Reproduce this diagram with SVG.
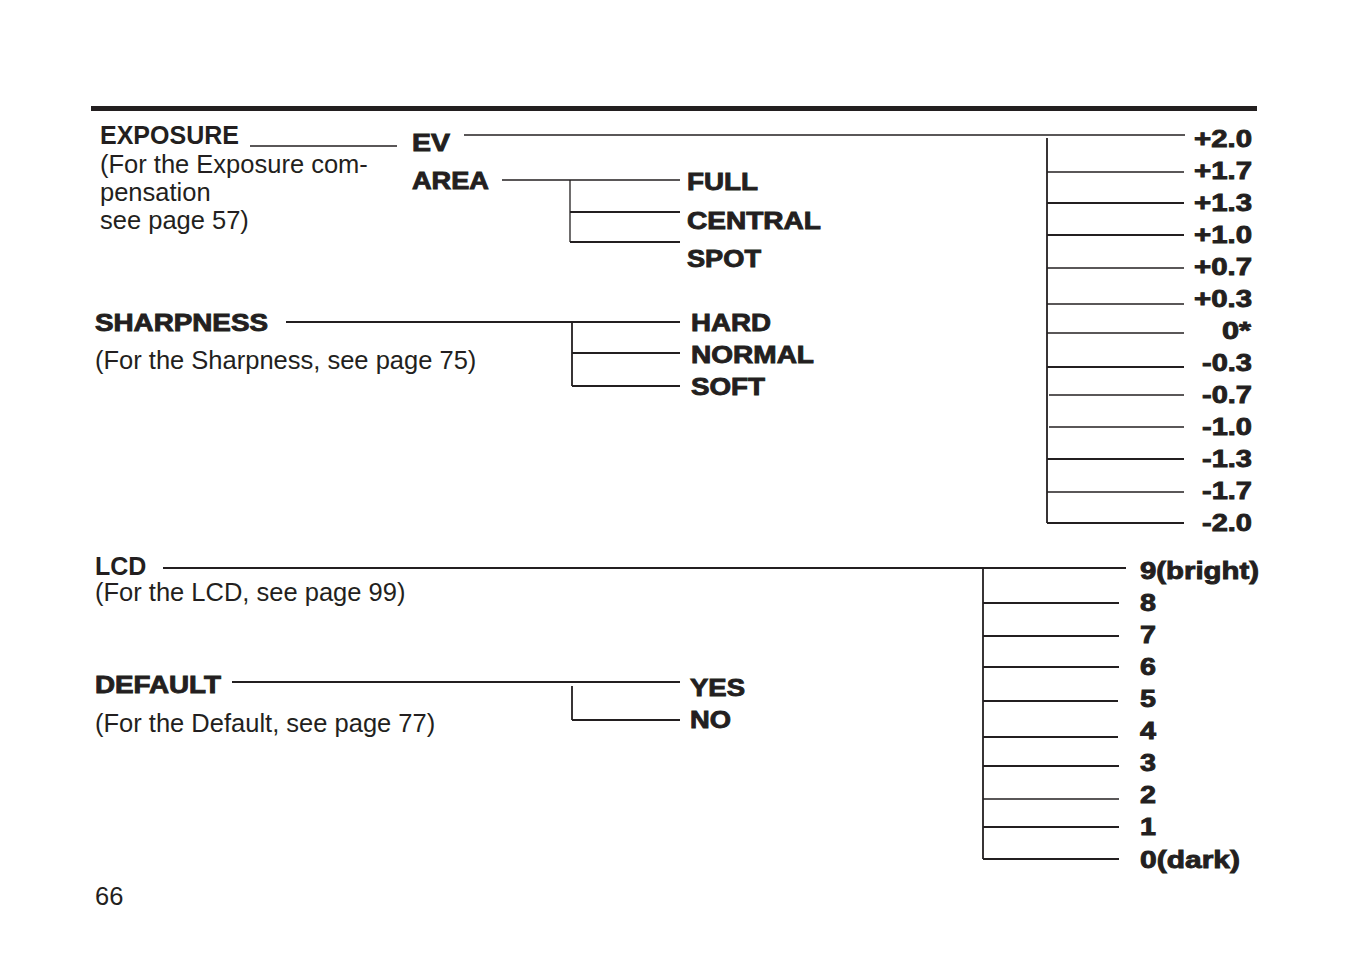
<svg xmlns="http://www.w3.org/2000/svg" width="1346" height="954" viewBox="0 0 1346 954">
<style>
.reg{font-family:"Liberation Sans",Arial,sans-serif;font-size:25.5px;fill:#231f20}
.bold{font-family:"Liberation Sans",Arial,sans-serif;font-size:25px;font-weight:bold;fill:#231f20}
.hv{font-family:"Liberation Sans",Arial,sans-serif;font-size:24.5px;font-weight:bold;fill:#231f20;stroke:#231f20;stroke-width:0.9px}
.ln{stroke:#231f20;stroke-width:1.8;fill:none}
.thin{stroke:#231f20;stroke-width:1.3;fill:none}
</style>
<rect width="1346" height="954" fill="#ffffff"/>
<rect x="91" y="106" width="1166" height="5" fill="#231f20"/>

<g id="connectors">
<line class="thin" x1="250" y1="146" x2="397" y2="146"/>
<line class="thin" x1="464" y1="135" x2="1185" y2="135"/>
<line class="ln" x1="1047" y1="138" x2="1047" y2="523"/>
<line class="thin" x1="1047" y1="172" x2="1184" y2="172"/>
<line class="ln" x1="1047" y1="203" x2="1184" y2="203"/>
<line class="ln" x1="1047" y1="235" x2="1184" y2="235"/>
<line class="thin" x1="1047" y1="268" x2="1184" y2="268"/>
<line class="thin" x1="1047" y1="304" x2="1184" y2="304"/>
<line class="thin" x1="1047" y1="333" x2="1184" y2="333"/>
<line class="ln" x1="1047" y1="367" x2="1184" y2="367"/>
<line class="thin" x1="1049" y1="395" x2="1184" y2="395"/>
<line class="thin" x1="1049" y1="427" x2="1184" y2="427"/>
<line class="ln" x1="1047" y1="459" x2="1184" y2="459"/>
<line class="thin" x1="1047" y1="492" x2="1184" y2="492"/>
<line class="ln" x1="1047" y1="523" x2="1184" y2="523"/>

<line class="thin" x1="502" y1="180" x2="680" y2="180"/>
<line class="thin" x1="570" y1="180" x2="570" y2="242"/>
<line class="ln" x1="570" y1="212" x2="680" y2="212"/>
<line class="ln" x1="570" y1="242" x2="680" y2="242"/>

<line class="ln" x1="286" y1="322" x2="680" y2="322"/>
<line class="ln" x1="572" y1="322" x2="572" y2="386"/>
<line class="ln" x1="572" y1="353" x2="680" y2="353"/>
<line class="ln" x1="572" y1="386" x2="680" y2="386"/>

<line class="ln" x1="163" y1="568" x2="1126" y2="568"/>
<line class="ln" x1="983" y1="568" x2="983" y2="859"/>
<line class="ln" x1="983" y1="603" x2="1119" y2="603"/>
<line class="ln" x1="983" y1="636" x2="1119" y2="636"/>
<line class="ln" x1="983" y1="667" x2="1119" y2="667"/>
<line class="ln" x1="983" y1="701" x2="1118" y2="701"/>
<line class="ln" x1="983" y1="737" x2="1118" y2="737"/>
<line class="ln" x1="983" y1="766" x2="1119" y2="766"/>
<line class="thin" x1="983" y1="799" x2="1119" y2="799"/>
<line class="ln" x1="983" y1="827" x2="1119" y2="827"/>
<line class="ln" x1="983" y1="859" x2="1119" y2="859"/>

<line class="ln" x1="232" y1="682" x2="680" y2="682"/>
<line class="ln" x1="572" y1="686" x2="572" y2="720"/>
<line class="ln" x1="572" y1="720" x2="680" y2="720"/>
</g>

<g id="exposure">
<text class="bold" x="100" y="144">EXPOSURE</text>
<text class="reg" x="100" y="173">(For the Exposure com-</text>
<text class="reg" x="100" y="201">pensation</text>
<text class="reg" x="100" y="229">see page 57)</text>
</g>
<g id="ev"><text class="hv" x="412" y="151" textLength="38" lengthAdjust="spacingAndGlyphs">EV</text></g>
<g id="area"><text class="hv" x="412" y="189" textLength="77" lengthAdjust="spacingAndGlyphs">AREA</text></g>
<g id="full"><text class="hv" x="687" y="190" textLength="71" lengthAdjust="spacingAndGlyphs">FULL</text></g>
<g id="central"><text class="hv" x="687" y="229" textLength="134" lengthAdjust="spacingAndGlyphs">CENTRAL</text></g>
<g id="spot"><text class="hv" x="687" y="267" textLength="74" lengthAdjust="spacingAndGlyphs">SPOT</text></g>

<g id="sharpness">
<text class="hv" x="95" y="331" textLength="173" lengthAdjust="spacingAndGlyphs">SHARPNESS</text>
<text class="reg" x="95" y="369">(For the Sharpness, see page 75)</text>
</g>
<g id="hard"><text class="hv" x="691" y="331" textLength="80" lengthAdjust="spacingAndGlyphs">HARD</text></g>
<g id="normal"><text class="hv" x="691" y="363" textLength="123" lengthAdjust="spacingAndGlyphs">NORMAL</text></g>
<g id="soft"><text class="hv" x="691" y="395" textLength="74" lengthAdjust="spacingAndGlyphs">SOFT</text></g>

<g id="ev-values">
<text class="hv" x="1194" y="147" textLength="58" lengthAdjust="spacingAndGlyphs">+2.0</text>
<text class="hv" x="1194" y="179" textLength="58" lengthAdjust="spacingAndGlyphs">+1.7</text>
<text class="hv" x="1194" y="211" textLength="58" lengthAdjust="spacingAndGlyphs">+1.3</text>
<text class="hv" x="1194" y="243" textLength="58" lengthAdjust="spacingAndGlyphs">+1.0</text>
<text class="hv" x="1194" y="275" textLength="58" lengthAdjust="spacingAndGlyphs">+0.7</text>
<text class="hv" x="1194" y="307" textLength="58" lengthAdjust="spacingAndGlyphs">+0.3</text>
<text class="hv" x="1222" y="339" textLength="29" lengthAdjust="spacingAndGlyphs">0*</text>
<text class="hv" x="1202" y="371" textLength="50" lengthAdjust="spacingAndGlyphs">-0.3</text>
<text class="hv" x="1202" y="403" textLength="50" lengthAdjust="spacingAndGlyphs">-0.7</text>
<text class="hv" x="1202" y="435" textLength="50" lengthAdjust="spacingAndGlyphs">-1.0</text>
<text class="hv" x="1202" y="467" textLength="50" lengthAdjust="spacingAndGlyphs">-1.3</text>
<text class="hv" x="1202" y="499" textLength="50" lengthAdjust="spacingAndGlyphs">-1.7</text>
<text class="hv" x="1202" y="531" textLength="50" lengthAdjust="spacingAndGlyphs">-2.0</text>
</g>

<g id="lcd">
<text class="bold" x="95" y="575">LCD</text>
<text class="reg" x="95" y="601">(For the LCD, see page 99)</text>
</g>
<g id="lcd-values">
<text class="hv" x="1140" y="579" textLength="119" lengthAdjust="spacingAndGlyphs">9(bright)</text>
<text class="hv" x="1140" y="611" textLength="16" lengthAdjust="spacingAndGlyphs">8</text>
<text class="hv" x="1140" y="643" textLength="16" lengthAdjust="spacingAndGlyphs">7</text>
<text class="hv" x="1140" y="675" textLength="16" lengthAdjust="spacingAndGlyphs">6</text>
<text class="hv" x="1140" y="707" textLength="16" lengthAdjust="spacingAndGlyphs">5</text>
<text class="hv" x="1140" y="739" textLength="16" lengthAdjust="spacingAndGlyphs">4</text>
<text class="hv" x="1140" y="771" textLength="16" lengthAdjust="spacingAndGlyphs">3</text>
<text class="hv" x="1140" y="803" textLength="16" lengthAdjust="spacingAndGlyphs">2</text>
<text class="hv" x="1140" y="835" textLength="16" lengthAdjust="spacingAndGlyphs">1</text>
<text class="hv" x="1140" y="868" textLength="100" lengthAdjust="spacingAndGlyphs">0(dark)</text>
</g>

<g id="default">
<text class="hv" x="95" y="693" textLength="126" lengthAdjust="spacingAndGlyphs">DEFAULT</text>
<text class="reg" x="95" y="732">(For the Default, see page 77)</text>
</g>
<g id="yes"><text class="hv" x="690" y="696" textLength="55" lengthAdjust="spacingAndGlyphs">YES</text></g>
<g id="no"><text class="hv" x="690" y="728" textLength="41" lengthAdjust="spacingAndGlyphs">NO</text></g>

<g id="page-number"><text class="reg" x="95" y="905">66</text></g>
</svg>
